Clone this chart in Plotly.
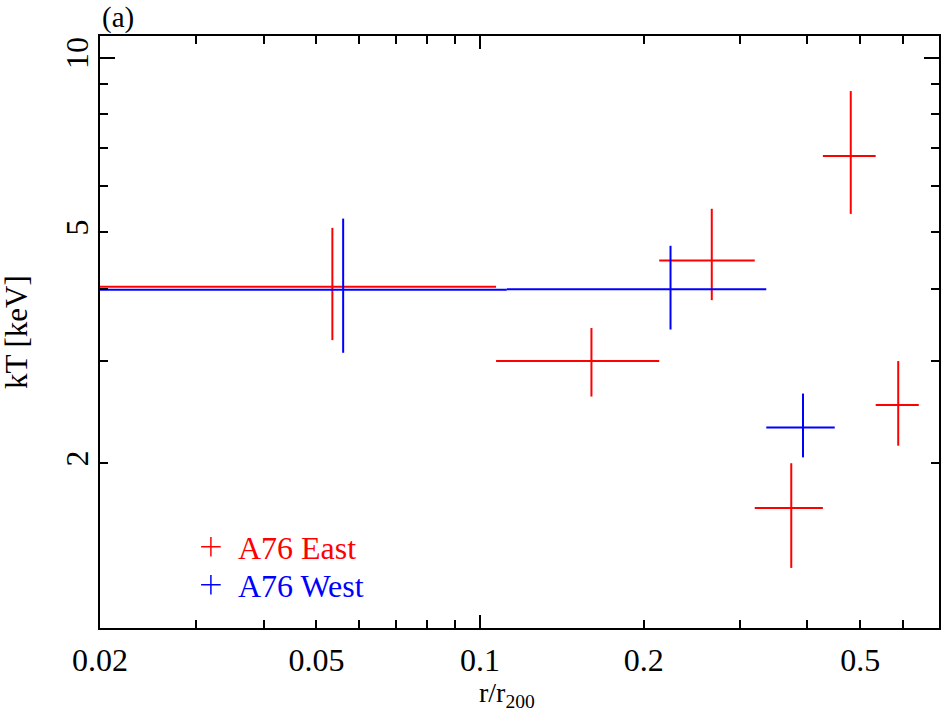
import plotly.graph_objects as go

# ---- data ----
east_edges = [0.0, 0.107, 0.2135, 0.320, 0.427, 0.534, 0.641]   # r/r200 bin edges
east_kT = [4.03, 3.00, 4.47, 1.675, 6.77, 2.52]
east_kT_lo = [3.26, 2.606, 3.82, 1.32, 5.38, 2.144]
east_kT_hi = [5.09, 3.42, 5.49, 2.00, 8.76, 3.00]

west_edges = [0.0, 0.112, 0.336, 0.449]
west_kT = [3.98, 3.99, 2.305]
west_kT_lo = [3.10, 3.40, 2.047]
west_kT_hi = [5.28, 4.74, 2.637]

x_tickvals = [0.02, 0.03, 0.04, 0.05, 0.06, 0.07, 0.08, 0.09, 0.1,
              0.2, 0.3, 0.4, 0.5, 0.6, 0.7]
x_ticklabels = ["0.02", "", "", "0.05", "", "", "", "", "0.1",
                "0.2", "", "", "0.5", "", ""]
y_tickvals = [2, 3, 4, 5, 6, 7, 8, 9, 10]
y_ticklabels = ["2", "", "", "5", "", "", "", "", "10"]

FONT = "Liberation Serif, Times New Roman, serif"
RED = "#ff0000"
BLUE = "#0000ff"


def series(edges, y, lo, hi):
    left = edges[:-1]
    right = edges[1:]
    xc = [(a + b) / 2 for a, b in zip(left, right)]
    lo_plot = [a if a > 0 else 1e-3 for a in left]   # bin starting at 0 -> off the log axis
    xm = [c - a for c, a in zip(xc, lo_plot)]
    xp = [b - c for b, c in zip(right, xc)]
    ym = [v - l for v, l in zip(y, lo)]
    yp = [h - v for v, h in zip(y, hi)]
    return xc, xm, xp, ym, yp


fig = go.Figure()

for edges, y, lo, hi, col in [
    (east_edges, east_kT, east_kT_lo, east_kT_hi, RED),
    (west_edges, west_kT, west_kT_lo, west_kT_hi, BLUE),
]:
    xc, xm, xp, ym, yp = series(edges, y, lo, hi)
    fig.add_trace(go.Scatter(
        x=xc, y=y, mode="markers",
        marker=dict(size=1, color=col, opacity=0),
        error_x=dict(type="data", symmetric=False, array=xp, arrayminus=xm,
                     color=col, thickness=2, width=0),
        error_y=dict(type="data", symmetric=False, array=yp, arrayminus=ym,
                     color=col, thickness=2, width=0),
        showlegend=False, hoverinfo="skip",
    ))

# legend entries
fig.add_trace(go.Scatter(
    x=[None], y=[None], mode="markers", name="A76 East",
    marker=dict(symbol="cross-thin", size=14, line=dict(color=RED, width=1.5)),
    legend="legend",
))
fig.add_trace(go.Scatter(
    x=[None], y=[None], mode="markers", name="A76 West",
    marker=dict(symbol="cross-thin", size=14, line=dict(color=BLUE, width=1.5)),
    legend="legend2",
))

axis_common = dict(
    showline=True, linecolor="black", linewidth=2, mirror="ticks",
    ticks="inside", tickcolor="black", tickwidth=2, ticklen=8,
    showgrid=False, zeroline=False,
    tickfont=dict(family=FONT, size=32, color="black"),
    tickmode="array",
)

fig.update_layout(
    width=943, height=712,
    margin=dict(l=100, r=2, t=36, b=84),
    paper_bgcolor="white", plot_bgcolor="white",
    font=dict(family=FONT, size=30, color="black"),
    xaxis=dict(
        type="log", range=[-1.699, -0.156],
        tickvals=x_tickvals, ticktext=x_ticklabels, ticklabelstandoff=3,
        minor=dict(tickmode="array", tickvals=[0.1], ticklen=13, tickwidth=2,
                   tickcolor="black", ticks="inside"),
        **axis_common,
    ),
    yaxis=dict(
        type="log", range=[0.017, 1.0374],
        tickvals=y_tickvals, ticktext=y_ticklabels, tickangle=-90,
        ticklabelstandoff=-3,
        minor=dict(tickmode="array", tickvals=[10], ticklen=15, tickwidth=2,
                   tickcolor="black", ticks="inside"),
        **axis_common,
    ),
    legend=dict(x=0.1, y=0.1368, xanchor="left", yanchor="middle",
                bgcolor="rgba(0,0,0,0)", font=dict(family=FONT, size=32, color=RED),
                itemwidth=44),
    legend2=dict(x=0.1, y=0.0726, xanchor="left", yanchor="middle",
                 bgcolor="rgba(0,0,0,0)", font=dict(family=FONT, size=32, color=BLUE),
                 itemwidth=44),
    annotations=[
        dict(text="r/r<sub>200</sub>", xref="paper", yref="paper", x=0.485, y=-0.08,
             xanchor="center", yanchor="top", showarrow=False,
             font=dict(family=FONT, size=28, color="black")),
        dict(text="kT [keV]", xref="paper", yref="paper", x=-0.1, y=0.5,
             xanchor="center", yanchor="middle", textangle=-90, showarrow=False,
             font=dict(family=FONT, size=31, color="black")),
        dict(text="(a)", xref="paper", yref="paper", x=0.0, y=1.032,
             xanchor="left", yanchor="middle", showarrow=False,
             font=dict(family=FONT, size=29, color="black")),
    ],
)

fig.write_html("out.html", config={"displayModeBar": False},
               post_script="document.body.style.margin='0px';")
